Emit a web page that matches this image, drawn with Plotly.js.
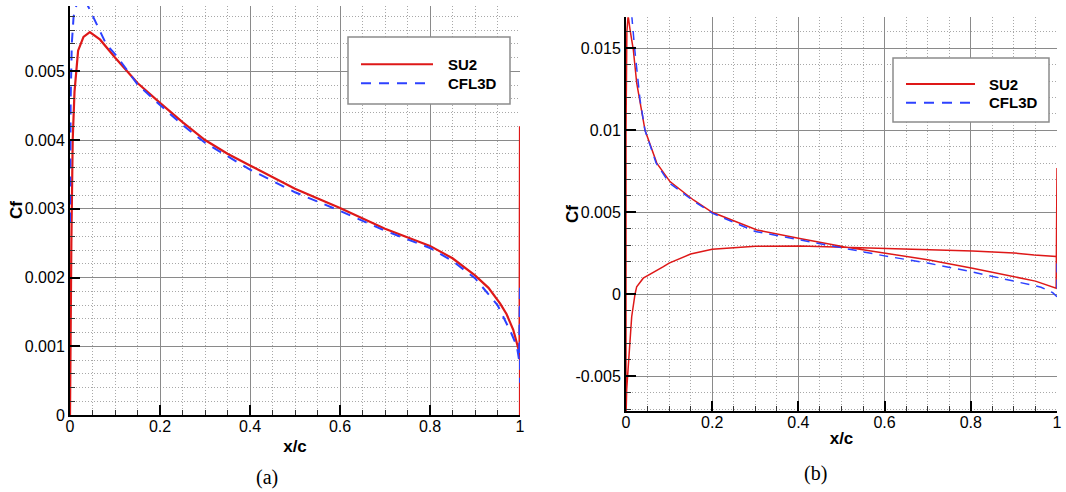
<!DOCTYPE html>
<html>
<head>
<meta charset="utf-8">
<script src="https://cdn.plot.ly/plotly-3.0.1.min.js"></script>
<style>html,body{margin:0;padding:0;background:#fff;}#chart{width:1066px;height:492px;}</style>
</head>
<body>
<div id="chart"></div>
<script>
// ---------- data ----------
const seriesNames = ["SU2", "CFL3D"];

// (a) symmetric case
const xA_SU2 = [0, 0.001, 0.003, 0.006, 0.01, 0.018, 0.03, 0.044, 0.067, 0.1, 0.126, 0.15, 0.2, 0.25, 0.3, 0.35, 0.4, 0.5, 0.6, 0.7, 0.8, 0.85, 0.9, 0.93, 0.956, 0.97, 0.985, 0.993, 0.999, 1.0, 1.0];
const cfA_SU2 = [0, 0.0010, 0.0025, 0.0040, 0.0047, 0.0053, 0.0055, 0.00557, 0.00546, 0.0052, 0.00501, 0.00483, 0.00454, 0.00426, 0.0040, 0.0038, 0.00363, 0.00329, 0.00301, 0.00271, 0.00246, 0.00228, 0.00203, 0.00185, 0.00162, 0.00147, 0.00124, 0.00103, 0.0009, 0.0042, 0.0];

const xA_CFL = [0, 0.0015, 0.004, 0.008, 0.015, 0.025, 0.04, 0.059, 0.08, 0.104, 0.15, 0.2, 0.25, 0.3, 0.4, 0.5, 0.6, 0.7, 0.8, 0.85, 0.9, 0.95, 0.98, 0.993, 0.998, 1.0, 1.0];
const cfA_CFL = [0.0028, 0.0046, 0.0054, 0.0058, 0.00598, 0.0061, 0.00595, 0.00568, 0.0054, 0.00522, 0.00481, 0.00451, 0.00422, 0.00396, 0.00357, 0.00324, 0.00297, 0.00268, 0.00243, 0.00224, 0.00199, 0.0016, 0.0012, 0.001, 0.0008, 0.0019, 0.00047];

// (b) lifting case (lower surface TE -> LE, then upper surface LE -> TE)
const xB_SU2 = [1.0, 0.998, 0.947, 0.9, 0.804, 0.7, 0.605, 0.5, 0.405, 0.3, 0.2, 0.15, 0.1256, 0.1, 0.0868, 0.06, 0.04, 0.0248, 0.0209, 0.0132, 0.0054, 0.0016, 0.0,
                0.0, 0.002, 0.005, 0.009, 0.017, 0.0249, 0.0442, 0.0714, 0.102, 0.1565, 0.2, 0.304, 0.4, 0.505, 0.605, 0.7, 0.804, 0.9, 0.95, 0.998, 1.0, 1.0];
const cfB_SU2 = [0.0020, 0.0023, 0.0024, 0.00252, 0.00264, 0.00272, 0.0028, 0.00287, 0.00294, 0.00293, 0.00274, 0.00245, 0.0022, 0.0019, 0.00168, 0.0013, 0.00098, 0.00046, 0.0, -0.00137, -0.004, -0.0058, -0.0075,
                 0.010, 0.0160, 0.0170, 0.0162, 0.0149, 0.01287, 0.0100, 0.0080, 0.00687, 0.00575, 0.0050, 0.00392, 0.00341, 0.0029, 0.0025, 0.0021, 0.00159, 0.0011, 0.0008, 0.00037, 0.0077, 0.0020];

const xB_CFL = [0.010, 0.013, 0.02, 0.0326, 0.044, 0.07, 0.1, 0.156, 0.2, 0.3, 0.4, 0.5, 0.6, 0.7, 0.8, 0.9, 0.963, 0.99, 1.0, 1.0];
const cfB_CFL = [0.0180, 0.0170, 0.0150, 0.01185, 0.0100, 0.0080, 0.0068, 0.0057, 0.00495, 0.00383, 0.00333, 0.0028, 0.00234, 0.0019, 0.00138, 0.0008, 0.00043, 0.0001, -0.00015, 0.0022];

// ticks
const xTickVals = [0, 0.2, 0.4, 0.6, 0.8, 1];
const xTickText = ["0", "0.2", "0.4", "0.6", "0.8", "1"];
const yTickValsA = [0, 0.001, 0.002, 0.003, 0.004, 0.005];
const yTickTextA = ["0", "0.001", "0.002", "0.003", "0.004", "0.005"];
const yTickValsB = [-0.005, 0, 0.005, 0.01, 0.015];
const yTickTextB = ["-0.005", "0", "0.005", "0.01", "0.015"];
const xTitle = "x/c";
const yTitle = "Cf";
const panelLabels = ["(a)", "(b)"];

// ---------- style ----------
const W = 1066, H = 492;
const RED = "rgb(222,24,24)";
const BLUE = "rgb(45,65,255)";
const FONT = "Liberation Sans, Arial, sans-serif";
const px = v => v / W;
const py = v => 1 - v / H;

const traces = [
  {x: xA_SU2, y: cfA_SU2, xaxis: "x", yaxis: "y", mode: "lines", name: seriesNames[0], line: {color: RED, width: 2.2}},
  {x: xA_CFL, y: cfA_CFL, xaxis: "x", yaxis: "y", mode: "lines", name: seriesNames[1], line: {color: BLUE, width: 2, dash: "10px,8px"}},
  {x: xB_SU2, y: cfB_SU2, xaxis: "x2", yaxis: "y2", mode: "lines", name: seriesNames[0], line: {color: RED, width: 1.5}},
  {x: xB_CFL, y: cfB_CFL, xaxis: "x2", yaxis: "y2", mode: "lines", name: seriesNames[1], line: {color: BLUE, width: 1.5, dash: "9px,7px"}}
];

const MINOR_GRID = {showgrid: true, gridcolor: "#a8a8a8", griddash: "1px,2px", gridwidth: 1,
                    ticks: "inside", ticklen: 5, tickwidth: 1, tickcolor: "#333"};

function xAxis(domain, anchor, standoff) {
  return {
    domain: domain, anchor: anchor, range: [0, 1],
    tickmode: "array", tickvals: xTickVals, ticktext: xTickText,
    ticks: "inside", ticklen: 10, tickwidth: 2, tickcolor: "#000",
    ticklabelstandoff: -4,
    showline: true, linecolor: "#000", linewidth: 2,
    showgrid: true, gridcolor: "#8a8a8a", gridwidth: 1, zeroline: false,
    minor: Object.assign({dtick: 0.05, tick0: 0}, MINOR_GRID),
    tickfont: {family: FONT, size: 16, color: "#000"},
    title: {text: xTitle, standoff: standoff, font: {family: FONT, size: 17, color: "#000", weight: "bold"}},
    fixedrange: true
  };
}
function yAxis(domain, anchor, range, vals, text, minorStep) {
  return {
    domain: domain, anchor: anchor, range: range,
    tickmode: "array", tickvals: vals, ticktext: text,
    ticks: "inside", ticklen: 10, tickwidth: 2, tickcolor: "#000",
    showline: true, linecolor: "#000", linewidth: 2,
    showgrid: true, gridcolor: "#8a8a8a", gridwidth: 1, zeroline: false,
    minor: Object.assign({dtick: minorStep, tick0: 0}, MINOR_GRID),
    tickfont: {family: FONT, size: 16, color: "#000"},
    fixedrange: true
  };
}

function legendShapes(box, lineX, rowsY) {
  return [
    {type: "rect", xref: "paper", yref: "paper", x0: px(box[0]), x1: px(box[1]), y0: py(box[3]), y1: py(box[2]),
     line: {color: "#8c8c8c", width: 1.5}, fillcolor: "#fff", layer: "above"},
    {type: "line", xref: "paper", yref: "paper", x0: px(lineX[0]), x1: px(lineX[1]), y0: py(rowsY[0]), y1: py(rowsY[0]),
     line: {color: RED, width: 2}, layer: "above"},
    {type: "line", xref: "paper", yref: "paper", x0: px(lineX[0]), x1: px(lineX[1]), y0: py(rowsY[1]), y1: py(rowsY[1]),
     line: {color: BLUE, width: 2, dash: "10px,8px"}, layer: "above"}
  ];
}
function legendText(tx, rowsY) {
  return seriesNames.map((n, i) => ({
    text: n, xref: "paper", yref: "paper", x: px(tx), y: py(rowsY[i]), xanchor: "left", yanchor: "middle",
    showarrow: false, font: {family: FONT, size: 15, color: "#000", weight: "bold"}
  }));
}
function yTitleAnn(cx, cy) {
  return {text: yTitle, xref: "paper", yref: "paper", x: px(cx), y: py(cy), xanchor: "center", yanchor: "middle",
          textangle: -90, showarrow: false, font: {family: FONT, size: 17, color: "#000", weight: "bold"}};
}

const layout = {
  width: W, height: H,
  margin: {l: 0, r: 0, t: 0, b: 0},
  paper_bgcolor: "#fff", plot_bgcolor: "#fff",
  showlegend: false,
  xaxis: xAxis([px(70), px(520)], "y", 6),
  yaxis: yAxis([py(415), py(6)], "x", [0, 0.00595], yTickValsA, yTickTextA, 0.0002),
  xaxis2: xAxis([px(626), px(1057)], "y2", 2),
  yaxis2: yAxis([py(411), py(17.3)], "x2", [-0.00712, 0.01689], yTickValsB, yTickTextB, 0.001),
  shapes: [].concat(
    legendShapes([348, 510, 37, 104], [361, 433], [64.3, 83.3]),
    legendShapes([893, 1049, 58, 122], [906, 975], [84, 102.7])
  ),
  annotations: [].concat(
    legendText(445.7, [64.3, 83.3]),
    legendText(987, [84, 102.7]),
    [
      yTitleAnn(17, 210),
      yTitleAnn(572, 214),
      {text: panelLabels[0], xref: "paper", yref: "paper", x: px(267), y: py(477), xanchor: "center", yanchor: "middle",
       showarrow: false, font: {family: "Liberation Serif, Times New Roman, serif", size: 20, color: "#000"}},
      {text: panelLabels[1], xref: "paper", yref: "paper", x: px(815), y: py(473), xanchor: "center", yanchor: "middle",
       showarrow: false, font: {family: "Liberation Serif, Times New Roman, serif", size: 20, color: "#000"}}
    ]
  )
};

Plotly.newPlot("chart", traces, layout, {staticPlot: true, displayModeBar: false});
</script>
</body>
</html>
